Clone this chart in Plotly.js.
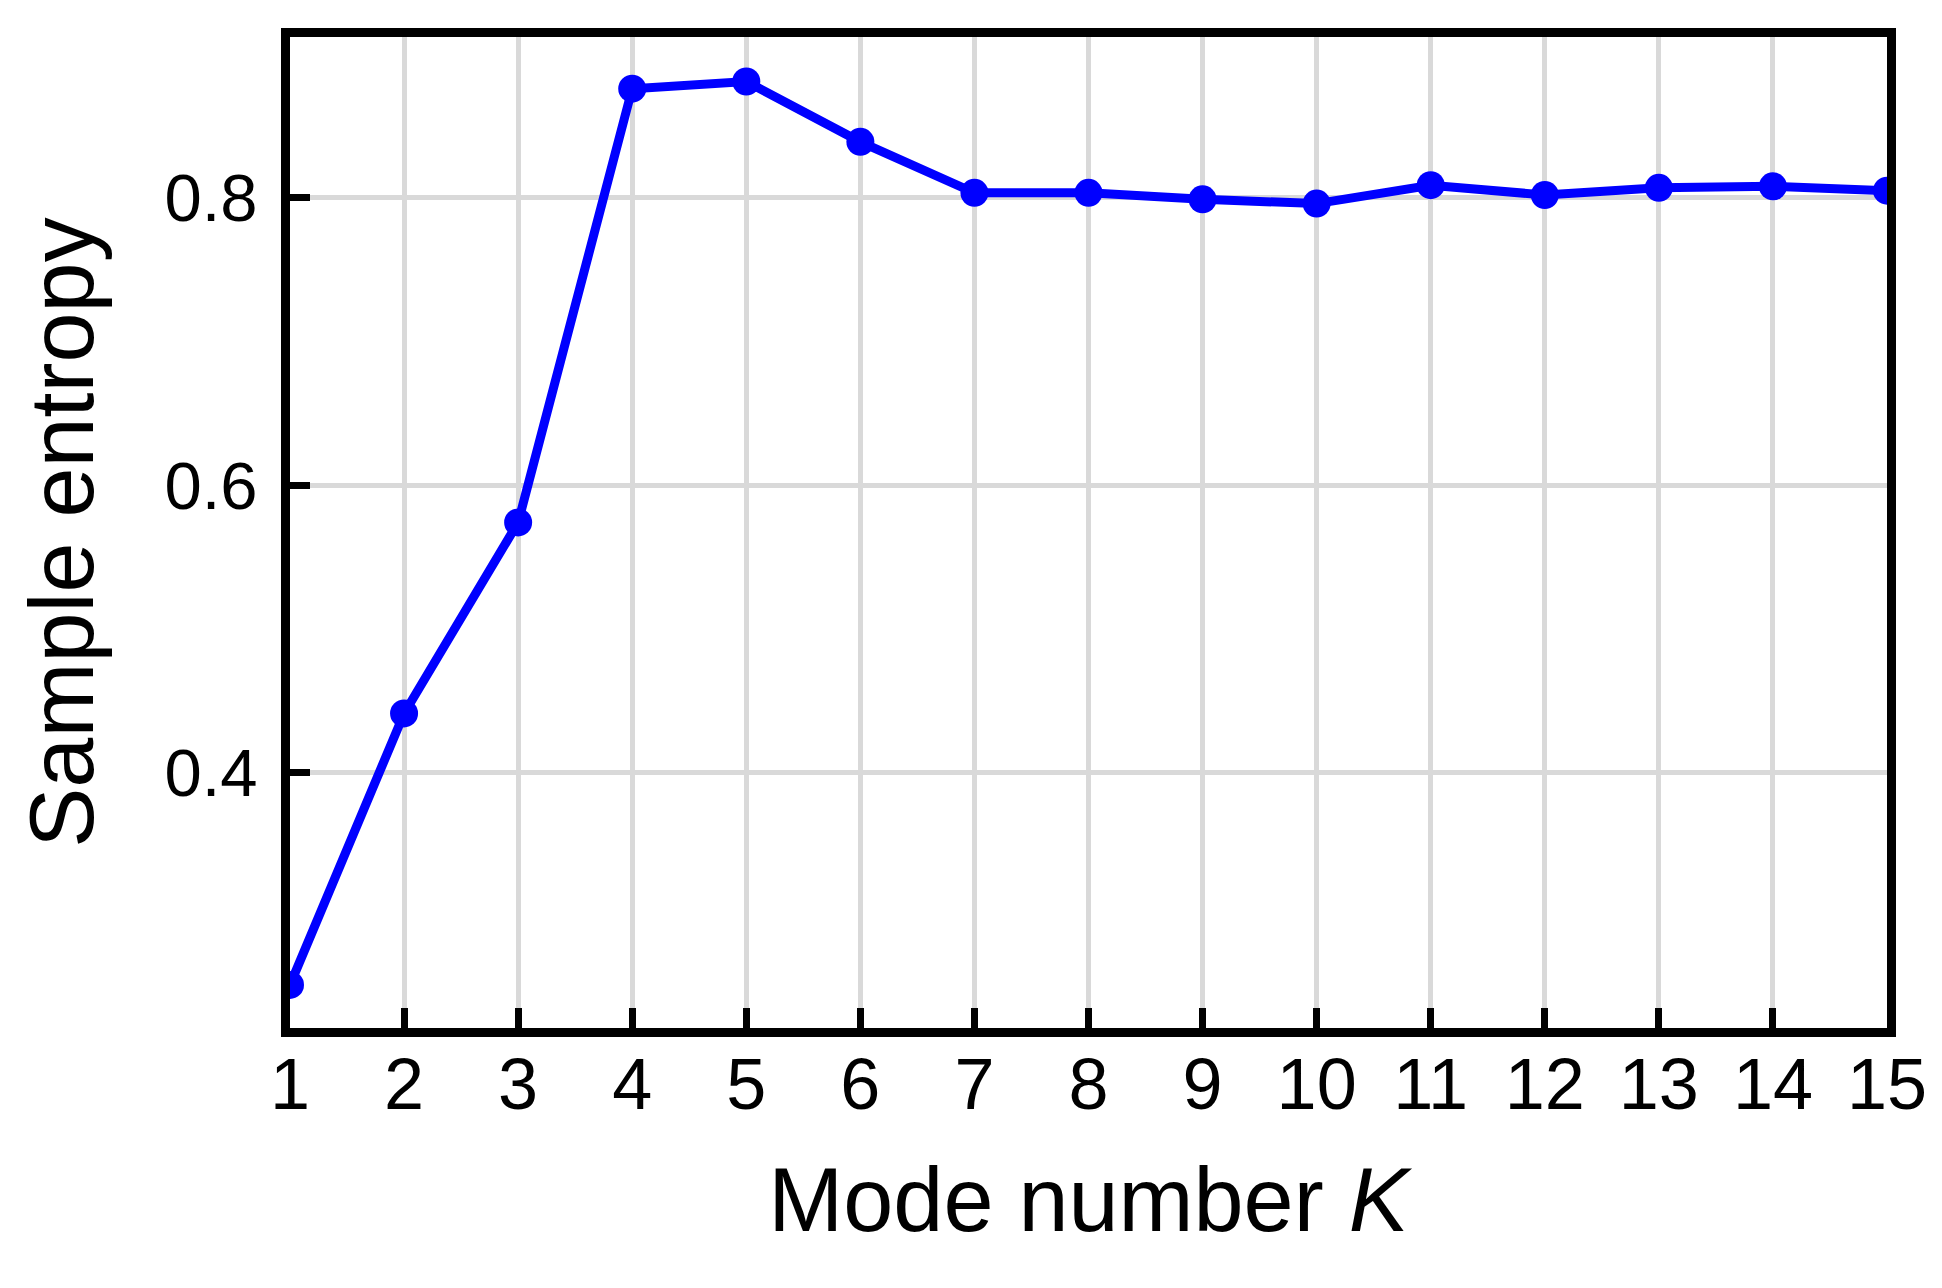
<!DOCTYPE html>
<html>
<head>
<meta charset="utf-8">
<script src="https://cdn.plot.ly/plotly-3.0.1.min.js"></script>
<style>html,body{margin:0;padding:0;background:#fff;}#chart{width:1942px;height:1288px;}</style>
</head>
<body>
<div id="chart"></div>
<script>
const modeNumbers = [1, 2, 3, 4, 5, 6, 7, 8, 9, 10, 11, 12, 13, 14, 15];
const sampleEntropy = [0.252, 0.441, 0.574, 0.876, 0.881, 0.839, 0.8035, 0.8035, 0.799, 0.796, 0.8088, 0.802, 0.807, 0.808, 0.805];
const xTickVals = [1, 2, 3, 4, 5, 6, 7, 8, 9, 10, 11, 12, 13, 14, 15];
const yTickVals = [0.4, 0.6, 0.8];
const yTickText = ["0.4", "0.6", "0.8"];

const trace = {
  x: modeNumbers,
  y: sampleEntropy,
  type: 'scatter',
  mode: 'lines+markers',
  line: {color: '#0000ff', width: 9},
  marker: {color: '#0000ff', size: 28},
  cliponaxis: true,
  hoverinfo: 'skip'
};

const fontFam = 'Liberation Sans, Arial, sans-serif';

const layout = {
  width: 1942,
  height: 1288,
  margin: {l: 290, r: 55, t: 37, b: 260},
  paper_bgcolor: '#ffffff',
  plot_bgcolor: '#ffffff',
  showlegend: false,
  font: {family: fontFam, color: '#000000'},
  xaxis: {
    range: [1, 15],
    tickvals: xTickVals,
    ticks: 'inside',
    ticklen: 20,
    tickwidth: 7,
    tickcolor: '#000000',
    showline: true,
    linecolor: '#000000',
    linewidth: 9,
    mirror: true,
    showgrid: true,
    gridcolor: '#d9d9d9',
    gridwidth: 5,
    zeroline: false,
    tickfont: {size: 72, family: fontFam, color: '#000'},
    ticklabelstandoff: -14,
    title: {text: 'Mode number <i>K</i>', font: {size: 90, family: fontFam, color: '#000'}, standoff: 48}
  },
  yaxis: {
    range: [0.222, 0.912],
    tickvals: yTickVals,
    ticktext: yTickText,
    ticks: 'inside',
    ticklen: 20,
    tickwidth: 7,
    tickcolor: '#000000',
    showline: true,
    linecolor: '#000000',
    linewidth: 9,
    mirror: true,
    showgrid: true,
    gridcolor: '#d9d9d9',
    gridwidth: 5,
    zeroline: false,
    tickfont: {size: 67, family: fontFam, color: '#000'},
    ticklabelstandoff: 10,
    title: {text: 'Sample entropy', font: {size: 90, family: fontFam, color: '#000'}, standoff: 44}
  }
};

Plotly.newPlot('chart', [trace], layout, {staticPlot: true, displayModeBar: false});
</script>
</body>
</html>
